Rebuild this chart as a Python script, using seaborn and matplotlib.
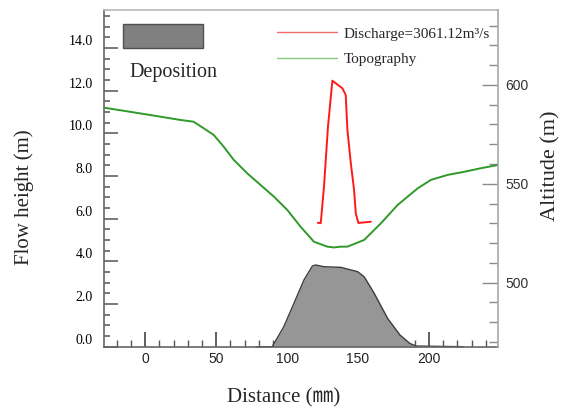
import matplotlib
matplotlib.use("Agg")
import matplotlib.pyplot as plt
import matplotlib.transforms as mtransforms
from matplotlib.lines import Line2D
from matplotlib.patches import Rectangle
from matplotlib.ticker import MultipleLocator
import seaborn as sns

# Flow height of the discharge wave (m) along the channel distance (mm)
discharge_dist = [121.6, 123.7, 126.0, 128.8, 131.9, 139.0, 141.3, 142.5,
                  144.9, 147.2, 148.4, 150.2, 159.0]
discharge_height = [5.81, 5.79, 7.50, 10.31, 12.47, 12.11, 11.80, 10.16,
                    8.60, 7.35, 6.25, 5.80, 5.86]

# Ground profile altitude (m)
topo_dist = [-29.0, 3.5, 24.7, 34.1, 41.2, 48.3, 55.3, 62.4, 71.9, 81.3, 90.7,
             100.1, 109.5, 118.9, 128.4, 133.0, 137.8, 142.5, 154.3, 166.1,
             177.9, 192.0, 201.4, 213.2, 225.0, 236.7, 248.6]
topo_alt = [588.5, 584.8, 582.3, 581.4, 578.1, 574.7, 568.8, 562.1, 555.3,
            549.4, 543.5, 536.8, 528.3, 520.7, 518.2, 517.8, 518.2, 518.2,
            521.6, 530.0, 539.3, 547.7, 552.0, 554.5, 556.1, 557.9, 559.5]

# Deposition thickness (m)
dep_dist = [78.0, 89.5, 97.7, 104.8, 111.9, 117.8, 120.1, 126.0, 137.8,
            149.6, 154.3, 161.4, 170.8, 179.5, 186.5, 191.0, 224.0]
dep_height = [0.0, 0.0, 0.94, 2.03, 3.13, 3.78, 3.83, 3.75, 3.72, 3.52,
              3.28, 2.50, 1.33, 0.55, 0.15, 0.03, 0.0]

height_ticks = [0, 2, 4, 6, 8, 10, 12, 14]
dist_ticks = [0, 50, 100, 150, 200]
alt_ticks = [500, 550, 600]

discharge_label = "Discharge=3061.12m³/s"
topo_label = "Topography"
dep_label = "Deposition"

sns.set_theme(style="ticks")
plt.rcParams["font.family"] = ["Liberation Serif", "Noto Sans CJK JP", "DejaVu Sans"]

W, H = 564, 409
fig = plt.figure(figsize=(W / 100, H / 100), dpi=100)
L, R, T, B = 104, 498, 10, 346.7
ax = fig.add_axes([L / W, 1 - B / H, (R - L) / W, (B - T) / H])
ax2 = ax.twinx()

# deposition body
ax.fill_between(dep_dist, dep_height, 0, color="#969696", lw=0, zorder=1)
ax.plot(dep_dist, dep_height, color="#3c3c3c", lw=1.0, zorder=2, clip_on=False)

# discharge flow height
sns.lineplot(x=discharge_dist, y=discharge_height, ax=ax, color="#ff1a1a",
             lw=1.4, estimator=None, sort=False, zorder=3)

# topography on the altitude axis
sns.lineplot(x=topo_dist, y=topo_alt, ax=ax2, color="#2f9a2a",
             lw=1.4, estimator=None, sort=False)

ax.set_xlim(-29, 248.6)
ax.set_ylim(0, 15.785)
ax2.set_ylim(467.6, 637.9)

# left axis
ax.set_yticks(height_ticks, [f"{v:.1f}" for v in height_ticks])
ax.yaxis.set_minor_locator(MultipleLocator(0.5))
ax.tick_params(axis="y", which="major", direction="in", length=10, width=1.1,
               color="#555555", labelsize=10, pad=8, labelcolor="black",
               left=True, right=False)
ax.tick_params(axis="y", which="minor", direction="in", length=4.5, width=1.1,
               color="#555555", left=True, right=False)
shift = mtransforms.ScaledTranslation(0, 8 / 100, fig.dpi_scale_trans)
for tk in ax.yaxis.get_major_ticks():
    tk.label1.set_transform(tk.label1.get_transform() + shift)

# bottom axis
ax.set_xticks(dist_ticks, [str(v) for v in dist_ticks],
              fontfamily="Liberation Sans", color="#222222")
ax.xaxis.set_minor_locator(MultipleLocator(10))
ax.tick_params(axis="x", which="major", direction="in", length=10.8, width=1.1,
               color="#333333", labelsize=10, pad=4, top=False)
ax.tick_params(axis="x", which="minor", direction="in", length=5, width=1.0,
               color="#555555", top=False)

# right axis
ax2.set_yticks(alt_ticks, [str(v) for v in alt_ticks],
               fontfamily="Liberation Sans", color="#333333")
ax2.yaxis.set_minor_locator(MultipleLocator(10))
ax2.tick_params(axis="y", which="major", direction="in", length=11.5, width=1.0,
                color="#8a8a8a", labelsize=10, pad=5)
ax2.tick_params(axis="y", which="minor", direction="in", length=6.5, width=1.0,
                color="#8a8a8a")

# spines
ax.spines["left"].set_color("#666666")
ax.spines["bottom"].set_color("#666666")
ax.spines["top"].set_color("#b8b8b8")
ax.spines["right"].set_visible(False)
for s in ["left", "top", "bottom"]:
    ax2.spines[s].set_visible(False)
ax2.spines["right"].set_color("#a8a8a8")
for s in ax.spines.values():
    s.set_linewidth(1.2)
ax2.spines["right"].set_linewidth(1.2)

# axis titles
ax.set_xlabel("Distance (㎜)", fontsize=15)
ax.xaxis.set_label_coords((284 - L) / (R - L), (B - 398) / (B - T))
ax.xaxis.label.set_va("center")
ax.set_ylabel("Flow height (m)", fontsize=15)
ax.yaxis.set_label_coords((24 - L) / (R - L), (B - 197) / (B - T))
ax.yaxis.label.set_va("center")
ax2.set_ylabel("Altitude (m)", fontsize=16, rotation=90)
ax2.yaxis.set_label_coords((551 - L) / (R - L), (B - 166) / (B - T))
ax2.yaxis.label.set_va("center")

# line legend
handles = [Line2D([], [], color="#f26a6a", lw=1.0),
           Line2D([], [], color="#86c978", lw=1.0)]
ax2.legend(handles, [discharge_label, topo_label], loc="upper left",
           bbox_to_anchor=((277 - L) / (R - L), (B - 27) / (B - T)),
           frameon=False, fontsize=11, handlelength=3.9, handletextpad=0.45,
           labelspacing=0.75, borderpad=0, borderaxespad=0)

# deposition key
ax.add_patch(Rectangle(((123.3 - L) / (R - L), (B - 47.7) / (B - T)),
                       80 / (R - L), 23.4 / (B - T), transform=ax.transAxes,
                       facecolor="#808080", edgecolor="#505050", lw=1.0,
                       zorder=5))
ax.text((129 - L) / (R - L), (B - 73) / (B - T), dep_label,
        transform=ax.transAxes, fontsize=14.5, va="center", ha="left")

fig.savefig("out.png", dpi=100)
